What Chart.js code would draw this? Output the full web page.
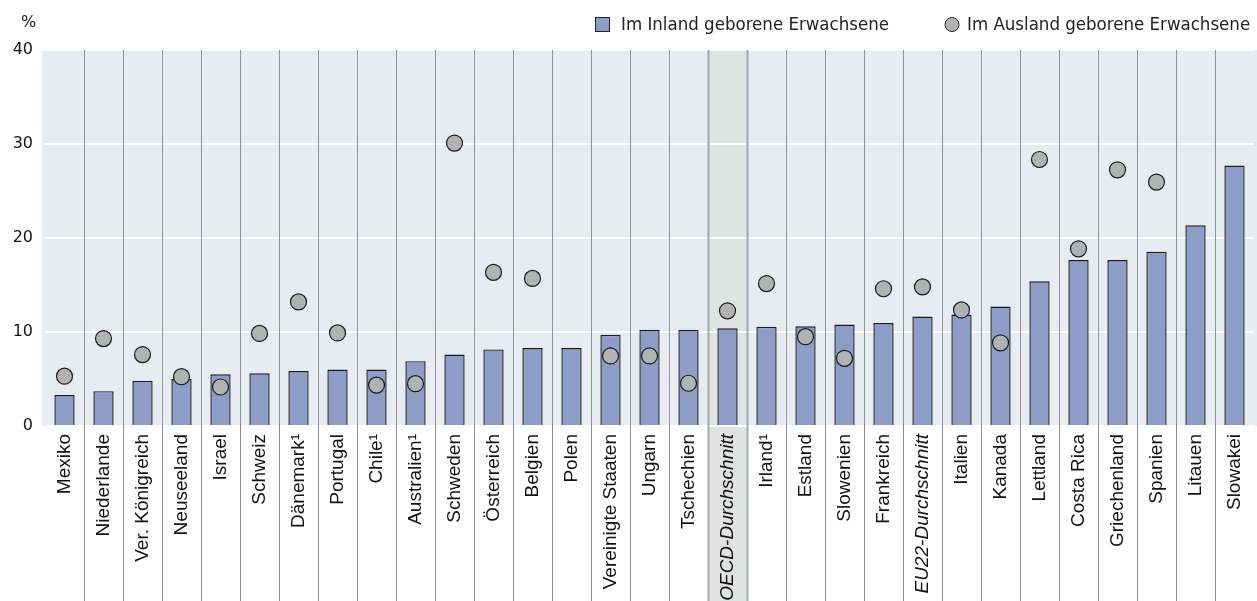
<!DOCTYPE html>
<html>
<head>
<meta charset="utf-8">
<script src="https://cdn.jsdelivr.net/npm/chart.js@4.4.1/dist/chart.umd.min.js"></script>
<style>
html,body{margin:0;padding:0;background:#fff;}
#wrap{width:1257px;height:601px;position:relative;}
</style>
</head>
<body>
<div id="wrap"><canvas id="c" width="1257" height="601"></canvas></div>
<script>
const categories = ["Mexiko","Niederlande","Ver. Königreich","Neuseeland","Israel","Schweiz","Dänemark¹","Portugal","Chile¹","Australien¹","Schweden","Österreich","Belgien","Polen","Vereinigte Staaten","Ungarn","Tschechien","OECD-Durchschnitt","Irland¹","Estland","Slowenien","Frankreich","EU22-Durchschnitt","Italien","Kanada","Lettland","Costa Rica","Griechenland","Spanien","Litauen","Slowakei"];
const nativeBorn = [3.3,3.7,4.8,5.0,5.5,5.6,5.85,6.0,6.0,6.9,7.6,8.15,8.3,8.3,9.7,10.25,10.25,10.4,10.55,10.6,10.8,10.95,11.65,11.85,12.7,15.4,17.65,17.65,18.55,21.35,27.7];
const foreignBorn = [5.3,9.3,7.6,5.25,4.15,9.85,13.2,9.9,4.35,4.5,30.1,16.35,15.7,null,7.45,7.45,4.55,12.25,15.15,9.5,7.2,14.6,14.8,12.35,8.85,28.35,18.85,27.25,25.95,null,null];
const yTicks = [0,10,20,30,40];
const seriesNames = ["Im Inland geborene Erwachsene","Im Ausland geborene Erwachsene"];
const highlighted = ["OECD-Durchschnitt"];
const italicLabels = ["OECD-Durchschnitt","EU22-Durchschnitt"];

const BAR_COLOR = "#8c9dc8";
const DOT_COLOR = "#b1b3b2";
const PLOT_BG = "#e7ecf3";
const HL_BG = "#e1e2e2";
const BG_BLEED = 3;

const decor = {
  id: "decor",
  beforeDraw(chart) {
    const {ctx, chartArea: a, scales: {x}} = chart;
    ctx.save();
    ctx.fillStyle = PLOT_BG;
    ctx.fillRect(a.left - BG_BLEED, a.top, a.right - a.left + 2 * BG_BLEED, a.bottom - a.top);
    const band = (a.right - a.left) / categories.length;
    categories.forEach((c, i) => {
      if (highlighted.includes(c)) {
        const cx = x.getPixelForValue(i);
        ctx.fillStyle = HL_BG;
        ctx.fillRect(cx - band / 2, a.top, band, chart.height - a.top);
      }
    });
    ctx.restore();
  },
  beforeDatasetsDraw(chart) {
    const {ctx, chartArea: a, scales: {x}} = chart;
    ctx.save();
    const band = (a.right - a.left) / categories.length;
    for (let i = 0; i < categories.length - 1; i++) {
      const px = Math.round(x.getPixelForValue(i) + band / 2) + 0.5;
      const near = highlighted.includes(categories[i]) || highlighted.includes(categories[i + 1]);
      ctx.strokeStyle = near ? "#a6a8aa" : "#8f9193";
      ctx.lineWidth = near ? 2 : 1;
      ctx.beginPath();
      ctx.moveTo(px, a.top);
      ctx.lineTo(px, chart.height);
      ctx.stroke();
    }
    ctx.restore();
  },
  afterDraw(chart) {
    const {ctx} = chart;
    ctx.save();
    ctx.fillStyle = "#222";
    ctx.font = "16px 'DejaVu Sans'";
    ctx.textBaseline = "middle";
    ctx.textAlign = "left";
    ctx.fillText("%", 21, 23);
    ctx.font = "18.5px 'Liberation Sans Narrow', 'DejaVu Sans Condensed', sans-serif";
    ctx.fillStyle = BAR_COLOR;
    ctx.strokeStyle = "#222";
    ctx.lineWidth = 1;
    ctx.fillRect(595.5, 17.5, 14, 14);
    ctx.strokeRect(595.5, 17.5, 14, 14);
    ctx.fillStyle = "#222";
    ctx.fillText(seriesNames[0], 621, 25);
    ctx.beginPath();
    ctx.arc(952, 24.5, 7, 0, Math.PI * 2);
    ctx.fillStyle = DOT_COLOR;
    ctx.fill();
    ctx.stroke();
    ctx.fillStyle = "#222";
    ctx.fillText(seriesNames[1], 967, 25);
    ctx.restore();
  }
};

new Chart(document.getElementById("c"), {
  type: "bar",
  data: {
    labels: categories,
    datasets: [
      {
        type: "line",
        label: seriesNames[1],
        data: foreignBorn,
        showLine: false,
        pointRadius: 8,
        pointHoverRadius: 8,
        pointBackgroundColor: DOT_COLOR,
        pointBorderColor: "#1a1a1a",
        pointBorderWidth: 1.2,
        order: 0
      },
      {
        type: "bar",
        label: seriesNames[0],
        data: nativeBorn,
        backgroundColor: BAR_COLOR,
        borderColor: "#1a1a1a",
        borderWidth: 1.4,
        borderSkipped: "bottom",
        categoryPercentage: 1,
        barPercentage: 0.52,
        order: 1
      }
    ]
  },
  options: {
    responsive: false,
    animation: false,
    events: [],
    layout: {autoPadding: false, padding: {top: 50, right: 3, left: 0, bottom: 0}},
    plugins: {legend: {display: false}, tooltip: {enabled: false}},
    scales: {
      x: {
        offset: true,
        grid: {display: false, drawTicks: false},
        border: {display: false},
        afterFit(s) { s.height = 175; s.paddingLeft = 0; s.paddingRight = 0; },
        ticks: {
          autoSkip: false,
          maxRotation: 90,
          minRotation: 90,
          padding: 8,
          color: "#111",
          font: (ctx) => ({
            family: "'Liberation Sans', Arial, sans-serif",
            size: 19,
            style: italicLabels.includes(categories[ctx.index]) ? "italic" : "normal"
          })
        }
      },
      y: {
        min: 0,
        max: 40,
        afterBuildTicks(s) { s.ticks = yTicks.map(v => ({value: v})); },
        afterFit(s) { s.width = 45; },
        grid: {color: "#ffffff", lineWidth: 2, drawTicks: false},
        border: {display: false},
        ticks: {
          padding: 12,
          color: "#111",
          font: {family: "'DejaVu Sans', sans-serif", size: 16}
        }
      }
    }
  },
  plugins: [decor]
});
</script>
</body>
</html>
